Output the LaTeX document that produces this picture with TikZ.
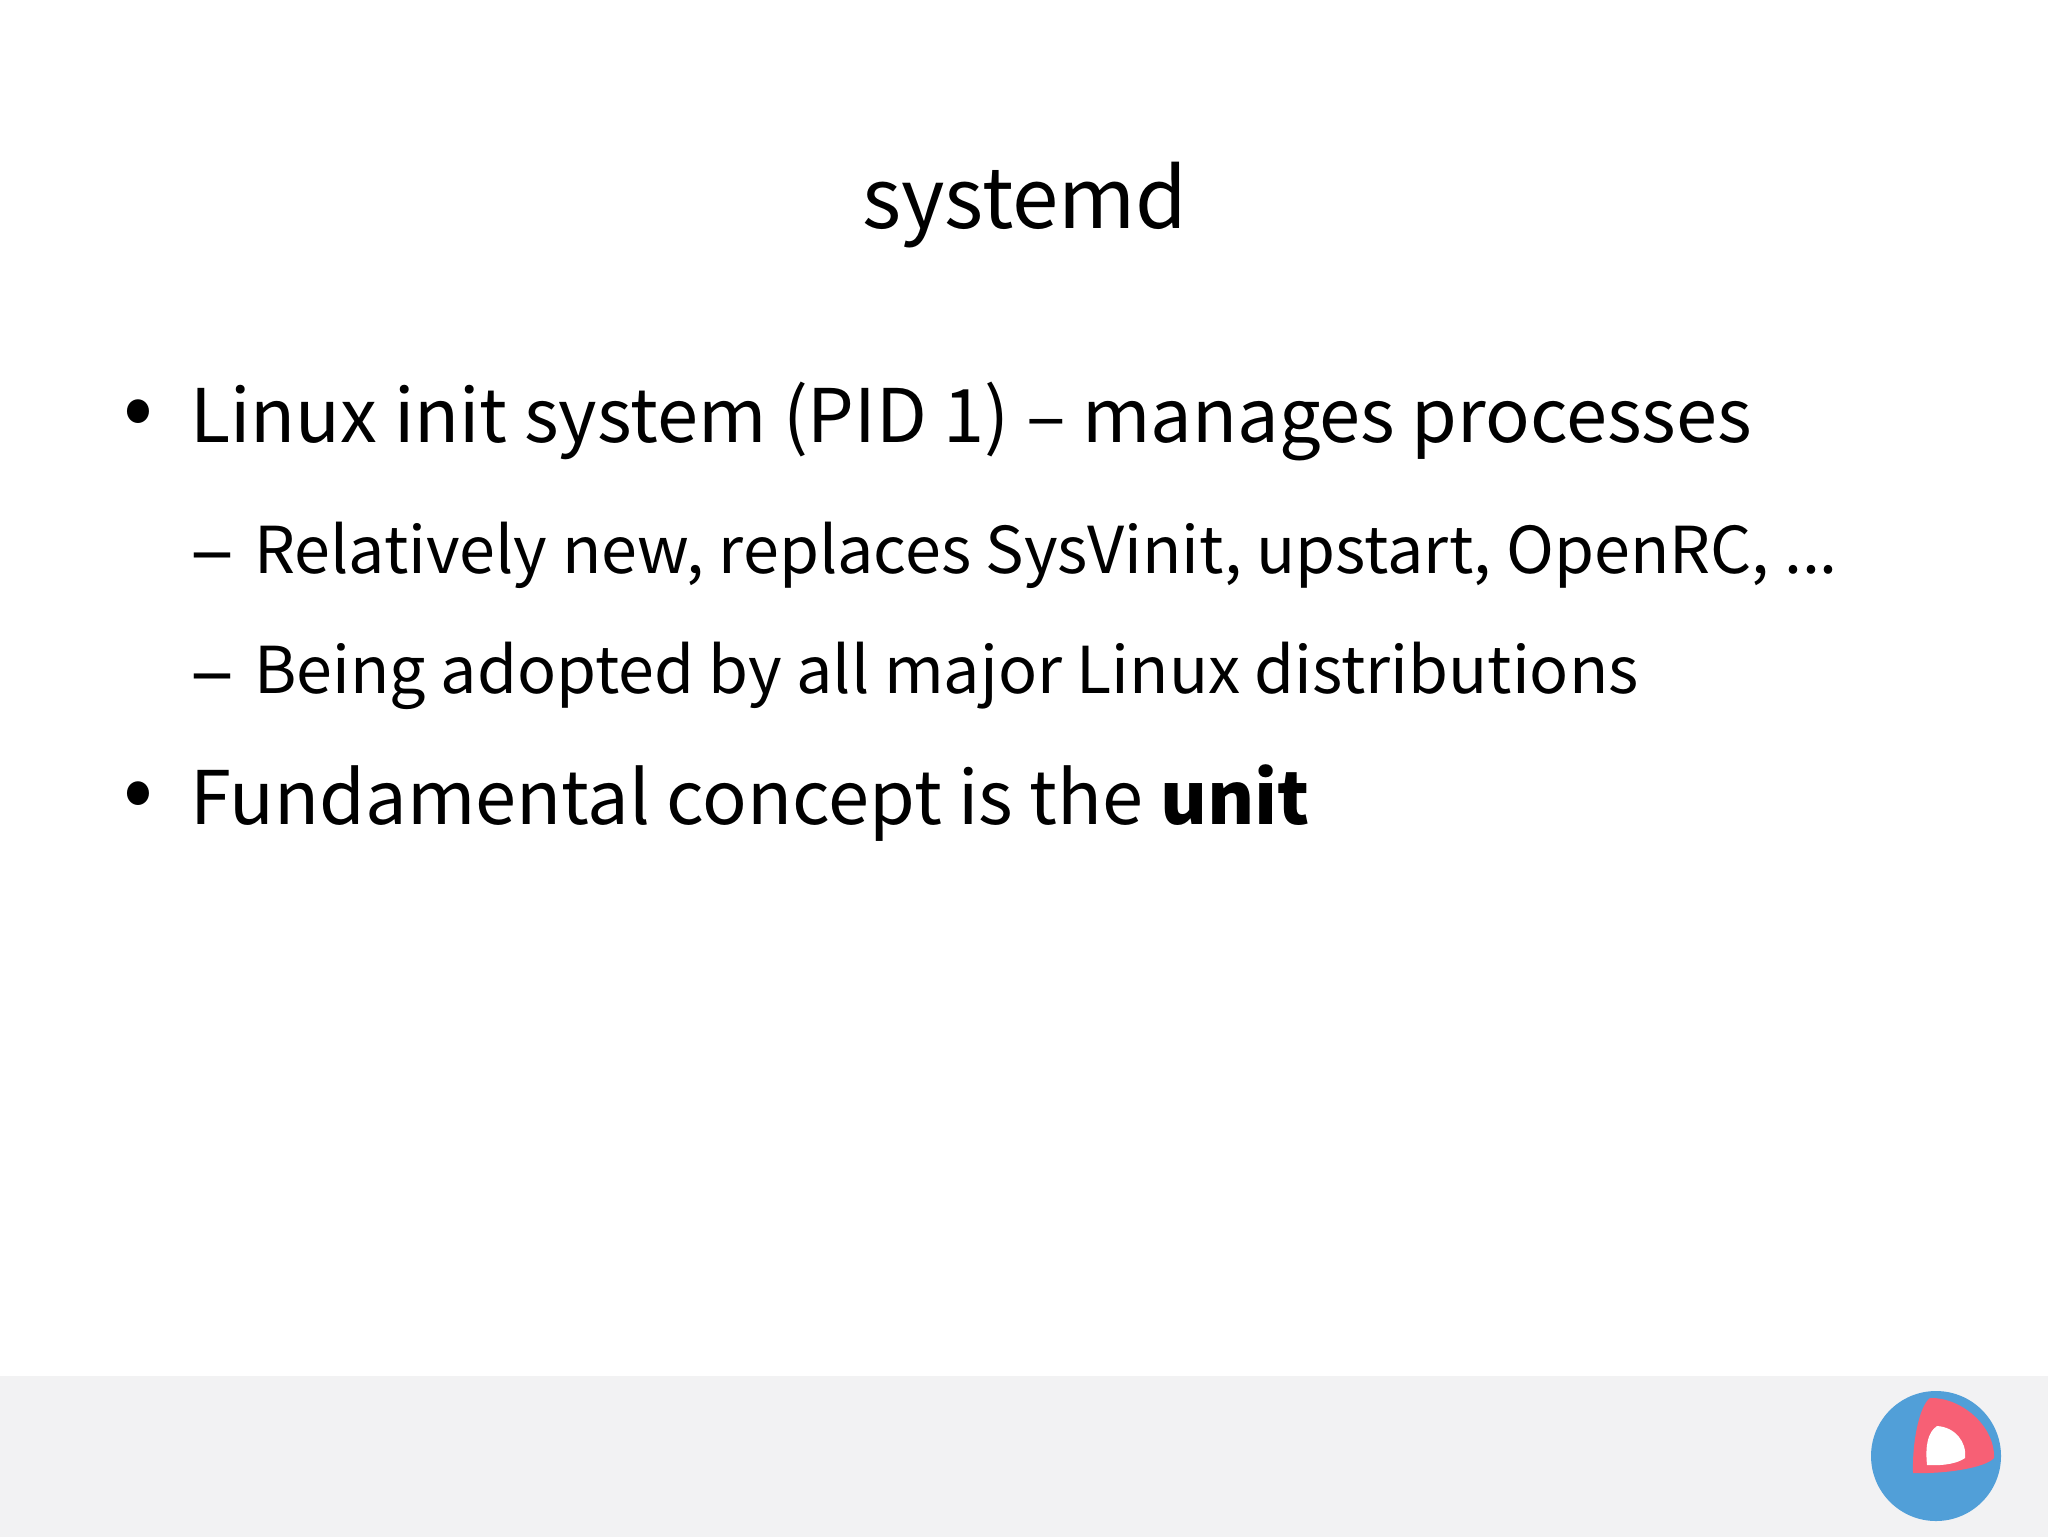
\documentclass[tikz,border=0pt]{standalone}
\usepackage{fontspec}
\setmainfont{Noto Sans CJK JP}
\usetikzlibrary{positioning}
\definecolor{footgray}{HTML}{F2F2F3}
\definecolor{logoblue}{HTML}{519FD8}
\definecolor{logored}{HTML}{F76075}
\tikzset{
  mainitem/.style={anchor=base west,inner sep=0pt,font=\fontsize{36.95}{37}\selectfont},
  subitem/.style={anchor=base west,inner sep=0pt,font=\fontsize{32.3}{32.3}\selectfont},
  bulletmark/.style={anchor=base west,inner sep=0pt,font=\fontsize{44}{44}\selectfont},
  dashmark/.style={anchor=base west,inner sep=0pt,font=\fontsize{41}{41}\selectfont},
}
\begin{document}
\begin{tikzpicture}[x=0.5pt,y=-0.5pt]
  \useasboundingbox (0,0) rectangle (2048,1537);
  \fill[footgray] (0,1376) rectangle (2048,1537);
  \node[anchor=base,inner sep=0pt,font=\fontsize{41.7}{41.7}\selectfont] (title) at (1025,228) {systemd};
  \node[bulletmark] (b1) at (123,437) {•};
  \node[mainitem] (t1) at (190,442) {Linux init system (PID 1) – manages processes};
  \node[dashmark] (d1) at (190,578) {–};
  \node[subitem] (s1) at (254,573) {Relatively new, replaces SysVinit, upstart, OpenRC, ...};
  \node[dashmark] (d2) at (190,699) {–};
  \node[subitem] (s2) at (254,693) {Being adopted by all major Linux distributions};
  \node[bulletmark] (b2) at (123,819) {•};
  \node[mainitem] (t2) at (190,824) {Fundamental concept is the {\fontsize{36}{36}\selectfont\textbf{unit}}};
  % logo
  \fill[logoblue] (1936,1456) circle (65);
  \fill[logored] (1913,1473) .. controls (1912,1440) and (1920,1405) .. (1930,1398)
    .. controls (1960,1397) and (1995,1425) .. (1994,1458)
    .. controls (1985,1468) and (1945,1474) .. (1913,1473) -- cycle;
  \fill[white] (1927,1465) .. controls (1925,1445) and (1928,1432) .. (1937,1426)
    .. controls (1955,1427) and (1967,1442) .. (1965,1458)
    .. controls (1958,1463) and (1945,1466) .. (1927,1465) -- cycle;
\end{tikzpicture}
\end{document}
